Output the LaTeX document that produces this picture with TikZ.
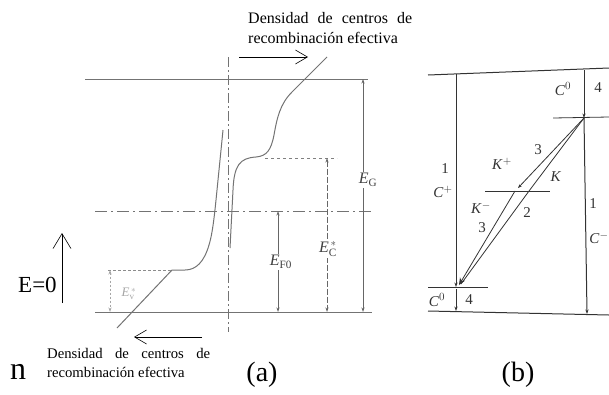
\documentclass[tikz,border=0pt]{standalone}
\usepackage{fontspec}
\setmainfont{Liberation Serif}
\usetikzlibrary{arrows.meta}
\begin{document}
\begin{tikzpicture}[x=1pt,y=-1pt,
  gline/.style={draw=black!55, line width=1pt},
  dashdot/.style={gline, dash pattern=on 12pt off 4pt on 2pt off 4pt},
  dimline/.style={draw=black!60, line width=0.7pt, {Stealth[length=4.5pt,width=3pt]}-{Stealth[length=4.5pt,width=3pt]}},
  txtarrow/.style={draw=black, line width=0.6pt, -{Straight Barb[length=12pt,width=14pt,line width=0.6pt]}},
  bline/.style={draw=black!80, line width=1pt},
  bdown/.style={bline, -{Stealth[length=4.5pt,width=3.2pt]}},
  lab/.style={text=black!75, font=\fontsize{16}{18}\selectfont, inner sep=1pt},
  blab/.style={text=black!80, font=\fontsize{15}{17}\selectfont, inner sep=0.5pt}
]
\useasboundingbox (0,0) rectangle (609,394);

% ---------------- panel (a) ----------------
\draw[gline] (85,79) -- (368,79);
\draw[dashdot] (95,211) -- (372,211);
\draw[gline] (95,312) -- (372,312);
\draw[gline, line width=0.8pt, dash pattern=on 10pt off 3pt on 2pt off 3pt] (228,57) -- (228,332);

% left curve
\draw[gline] (117,328) -- (172,270) -- (185,270)
  .. controls (196,270) and (204,262) .. (209,245)
  .. controls (213,232) and (215,210) .. (217,190) -- (223,130);
% right curve
\draw[gline] (230,248) -- (233,190)
  .. controls (234,165) and (240,158) .. (256,157)
  .. controls (267,156) and (271,150) .. (274,135)
  .. controls (277,118) and (280,104) .. (292,92) -- (327,57);

% dashed guide lines
\draw[draw=black!50, line width=0.8pt, dash pattern=on 3pt off 3pt] (265,158) -- (337,158);
\draw[draw=black!45, line width=0.8pt, dash pattern=on 2.5pt off 2.5pt] (108,270) -- (172,270);

% dimension arrows
\coordinate (gT) at (363,79);  \coordinate (gB) at (363,312);
\coordinate (cT) at (327,158); \coordinate (cB) at (327,312);
\coordinate (fT) at (278,211); \coordinate (fB) at (278,312);
\coordinate (vT) at (110,270); \coordinate (vB) at (110,312);
\draw[dimline] (gT) -- (gB);
\draw[dimline, dash pattern=on 6pt off 2pt] (cT) -- (cB);
\draw[dimline] (fT) -- (fB);
\draw[dimline, draw=black!35, dash pattern=on 2pt off 2pt] (vT) -- (vB);

\node[lab, fill=white] (EG) at (368,180) {\textit{E}$_{\mathrm{G}}$};
\node[lab, fill=white] (EC) at (328,249) {\textit{E}$_{\mathrm{C}}^{\,*}$};
\node[lab, fill=white] (EF) at (281,262) {\textit{E}$_{\mathrm{F0}}$};
\node[lab, text=black!35, font=\fontsize{13}{15}\selectfont] (EV) at (129,294) {\textit{E}$_{\mathrm{v}}^{\,*}$};

% text arrows
\coordinate (ta1) at (239,57); \coordinate (ta2) at (308,57);
\draw[txtarrow] (ta1) -- (ta2);
\coordinate (ba1) at (202,337); \coordinate (ba2) at (134,337);
\draw[txtarrow] (ba1) -- (ba2);
\coordinate (ea1) at (62,303); \coordinate (ea2) at (62,233);
\draw[txtarrow, -{Straight Barb[length=15pt,width=18pt,line width=0.6pt]}] (ea1) -- (ea2);

\node[anchor=base west, inner sep=0, font=\fontsize{16}{18}\selectfont] (t1) at (248,23) {\makebox[164pt][s]{Densidad de centros de}};
\node[anchor=base west, inner sep=0, font=\fontsize{16}{18}\selectfont] (t2) at (248,43) {recombinación efectiva};
\node[anchor=base west, inner sep=0, font=\fontsize{14.7}{17}\selectfont] (b1) at (47,358) {\makebox[163pt][s]{Densidad de centros de}};
\node[anchor=base west, inner sep=0, font=\fontsize{14.7}{17}\selectfont] (b2) at (47,377) {recombinación efectiva};

\node[anchor=base west, inner sep=0, font=\fontsize{23}{26}\selectfont] (E0) at (18,292) {E=0};
\node[anchor=base west, inner sep=0, font=\fontsize{32}{36}\selectfont] (n) at (10,379) {n};
\node[anchor=base, inner sep=0, font=\fontsize{28}{32}\selectfont] (pa) at (262,381) {(a)};
\node[anchor=base, inner sep=0, font=\fontsize{28}{32}\selectfont] (pb) at (518,381) {(b)};

% ---------------- panel (b) ----------------
\draw[bline] (428,75) -- (609,68);
\draw[bline] (428,311) -- (609,315);
\coordinate (lo) at (456,287);
\coordinate (mid) at (515,191);
\coordinate (up) at (584,118);
\draw[bline, line width=0.8pt] (428,287) -- (488,287);
\draw[bline, line width=0.8pt] (485,191) -- (550,191);
\draw[bline, line width=0.8pt] (553,118) -- (609,117);

\draw[bdown] (456,74) -- (lo);
\draw[bdown] (456,289) -- (456,311);
\draw[bdown] (584,70) -- (up);
\draw[bdown] (up) -- (587,314);

\draw[bline, line width=0.8pt] (up) -- (529,191) -- (461,284);
\draw[bline, line width=0.8pt, -{Stealth[length=4pt,width=3pt]}] (up) -- (518,188);
\draw[bline, line width=0.8pt, -{Stealth[length=7pt,width=6pt]}] (mid) -- (459,285);

\node[blab] (c0u) at (563,89) {\textit{C}$^{0}$};
\node[blab] (n4u) at (598,88) {4};
\node[blab] (n1l) at (445,169) {1};
\node[blab] (cpl) at (443,192) {\textit{C}$^{+}$};
\node[blab] (kp) at (502,164) {\textit{K}$^{+}$};
\node[blab] (n3u) at (538,150) {3};
\node[blab] (kk) at (556,177) {\textit{K}};
\node[blab] (km) at (481,208) {\textit{K}$^{-}$};
\node[blab] (n2) at (527,213) {2};
\node[blab] (n3l) at (482,228) {3};
\node[blab] (n1r) at (593,204) {1};
\node[blab] (cmr) at (599,238) {\textit{C}$^{-}$};
\node[blab] (c0l) at (437,300) {\textit{C}$^{0}$};
\node[blab] (n4l) at (469,300) {4};
\end{tikzpicture}
\end{document}
